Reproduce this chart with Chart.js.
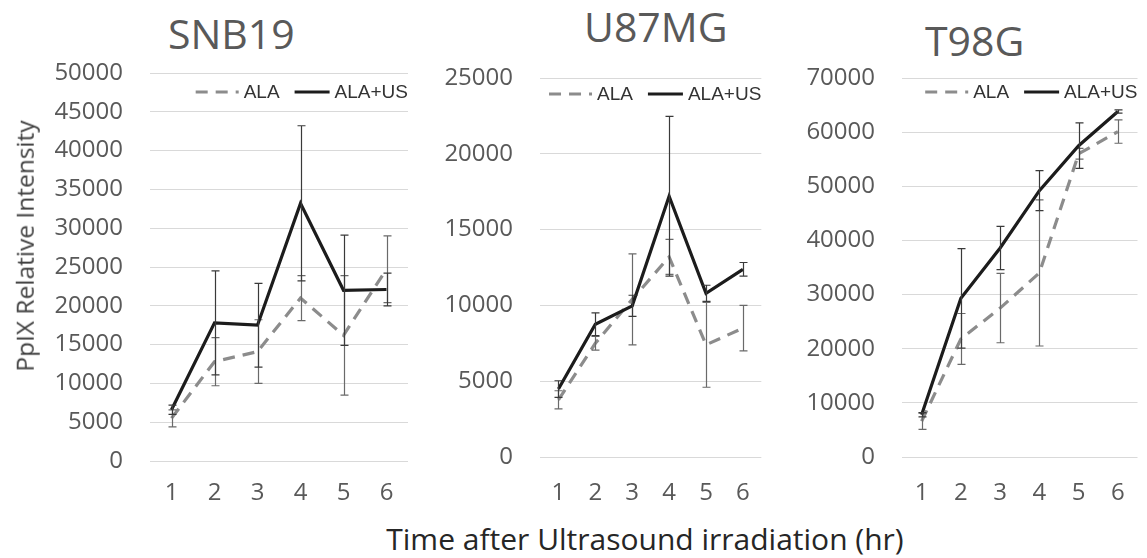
<!DOCTYPE html>
<html>
<head>
<meta charset="utf-8">
<script src="https://cdn.jsdelivr.net/npm/chart.js@4.4.0/dist/chart.umd.min.js"></script>
<style>
  body { margin: 0; background: #fff; width: 1147px; height: 558px; position: relative; overflow: hidden; font-family: "Open Sans", sans-serif; }
  canvas { position: absolute; top: 0; }
  .ttl { position: absolute; color: #595959; font-size: 41px; line-height: 1; white-space: nowrap; }
  #xtitle { position: absolute; left: 645px; top: 524px; transform: translateX(-50%); font-size: 30px; line-height: 1; color: #262626; white-space: nowrap; }
  #ytitle { position: absolute; left: 25px; top: 246px; transform: translate(-50%, -50%) rotate(-90deg); font-size: 24.5px; line-height: 1; color: #404040; white-space: nowrap; }
</style>
</head>
<body>
<div class="ttl" style="left:168px; top:13px;">SNB19</div>
<div class="ttl" style="left:584px; top:6px;">U87MG</div>
<div class="ttl" style="left:925px; top:20px;">T98G</div>
<canvas id="c1" width="412" height="510" style="left:0"></canvas>
<canvas id="c2" width="352" height="510" style="left:420px"></canvas>
<canvas id="c3" width="367" height="510" style="left:780px"></canvas>
<div id="ytitle">PpIX Relative Intensity</div>
<div id="xtitle">Time after Ultrasound irradiation (hr)</div>
<script>
const hours = ["1", "2", "3", "4", "5", "6"];

// SNB19
const snbAla = [5500, 12800, 14100, 21000, 16200, 24700];
const snbAlaErr = [1100, 3100, 4100, 2900, 7700, 4300];
const snbUs = [6600, 17800, 17500, 33200, 22000, 22100];
const snbUsErr = [600, 6700, 5400, 10000, 7100, 2100];

// U87MG
const u87Ala = [3770, 7500, 10400, 13200, 7400, 8500];
const u87AlaErr = [600, 450, 3000, 1150, 2800, 1500];
const u87Us = [4480, 8760, 9970, 17200, 10800, 12380];
const u87UsErr = [550, 750, 700, 5270, 530, 450];

// T98G
const t98Ala = [6600, 21800, 27500, 34000, 56000, 60100];
const t98AlaErr = [1500, 4700, 6400, 13500, 1000, 2150];
const t98Us = [7800, 29300, 38600, 49200, 57500, 63800];
const t98UsErr = [400, 9200, 4000, 3700, 4200, 300];

const FONT = '"Open Sans", sans-serif';
const TICK = "#595959";

// vertical error bars with caps, drawn right after each line
const errorBars = {
  id: "errorBars",
  afterDatasetDraw(chart, args) {
    const ds = chart.data.datasets[args.index];
    if (!ds.errors) return;
    const ctx = chart.ctx;
    const y = chart.scales.y;
    ctx.save();
    ctx.strokeStyle = ds.errorColor;
    ctx.lineWidth = 1.2;
    args.meta.data.forEach((pt, j) => {
      const v = ds.data[j], e = ds.errors[j];
      const yt = y.getPixelForValue(v + e);
      const yb = y.getPixelForValue(v - e);
      const x = Math.round(pt.x) + 0.5;
      ctx.beginPath();
      ctx.moveTo(x, yt); ctx.lineTo(x, yb);
      ctx.moveTo(x - 4, yt); ctx.lineTo(x + 4, yt);
      ctx.moveTo(x - 4, yb); ctx.lineTo(x + 4, yb);
      ctx.stroke();
    });
    ctx.restore();
  }
};

// legend drawn inside the plot area, top right
const insideLegend = {
  id: "insideLegend",
  afterDraw(chart, args, opts) {
    const ctx = chart.ctx, area = chart.chartArea;
    ctx.save();
    ctx.font = '19px "Liberation Sans", Arial, sans-serif';
    ctx.textBaseline = "middle";
    const items = chart.data.datasets.map(ds => ({ ds, tw: ctx.measureText(ds.label).width }));
    let total = 0;
    items.forEach((it, k) => { total += it.ds.legendLen + 5 + it.tw + (k ? 15 : 0); });
    let x = area.right - total;
    const y = area.top + opts.offsetY;
    items.forEach((it, k) => {
      if (k) x += 15;
      ctx.strokeStyle = it.ds.borderColor;
      ctx.lineWidth = it.ds.borderWidth;
      ctx.setLineDash(it.ds.borderDash || []);
      ctx.beginPath();
      ctx.moveTo(x, y); ctx.lineTo(x + it.ds.legendLen, y);
      ctx.stroke();
      ctx.setLineDash([]);
      x += it.ds.legendLen + 5;
      ctx.fillStyle = "#333";
      ctx.fillText(it.ds.label, x, y + 1);
      x += it.tw;
    });
    ctx.restore();
  }
};

function makePanel(id, ala, alaErr, us, usErr, cfg) {
  return new Chart(document.getElementById(id), {
    type: "line",
    data: {
      labels: hours,
      datasets: [
        {
          label: "ALA",
          data: ala,
          errors: alaErr,
          errorColor: "#6a6a6a",
          borderColor: "#8c8c8c",
          borderWidth: 3.2,
          borderDash: [12, 8],
          legendLen: 43,
          pointRadius: 0,
          order: 1
        },
        {
          label: "ALA+US",
          data: us,
          errors: usErr,
          errorColor: "#3a3a3a",
          borderColor: "#1c1c1c",
          borderWidth: 3.2,
          legendLen: 35,
          pointRadius: 0,
          order: 0
        }
      ]
    },
    options: {
      responsive: false,
      animation: false,
      devicePixelRatio: 1,
      layout: { padding: { top: cfg.top, right: cfg.right, bottom: 0, left: 0 } },
      plugins: {
        legend: { display: false },
        tooltip: { enabled: false },
        insideLegend: { offsetY: cfg.legY }
      },
      scales: {
        x: {
          offset: true,
          grid: { display: false, drawTicks: false },
          border: { display: false },
          ticks: { color: TICK, font: { family: FONT, size: 24 }, padding: cfg.xPad },
          afterFit(s) { s.height = cfg.xH; }
        },
        y: {
          min: 0,
          max: cfg.max,
          ticks: {
            stepSize: cfg.step,
            color: TICK,
            font: { family: FONT, size: 24 },
            padding: 27,
            callback: v => String(v)
          },
          grid: { color: "#d9d9d9", drawTicks: false },
          border: { display: false },
          afterFit(s) { s.width = cfg.yW; }
        }
      }
    },
    plugins: [errorBars, insideLegend]
  });
}

makePanel("c1", snbAla, snbAlaErr, snbUs, snbUsErr,
  { max: 50000, step: 5000, yW: 150, top: 73, right: 4, xH: 49, xPad: 18, legY: 19 });
makePanel("c2", u87Ala, u87AlaErr, u87Us, u87UsErr,
  { max: 25000, step: 5000, yW: 120, top: 78, right: 3, xH: 53, xPad: 22, legY: 16 });
makePanel("c3", t98Ala, t98AlaErr, t98Us, t98UsErr,
  { max: 70000, step: 10000, yW: 122, top: 78, right: 3, xH: 53, xPad: 22, legY: 14 });
</script>
</body>
</html>
